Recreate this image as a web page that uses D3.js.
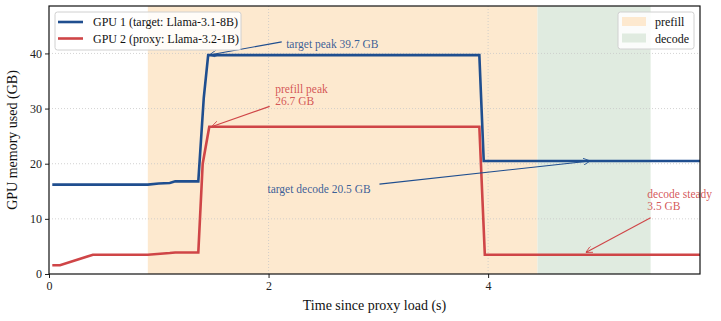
<!DOCTYPE html>
<html>
<head>
<meta charset="utf-8">
<script src="https://cdn.jsdelivr.net/npm/d3@7"></script>
<style>
  body { margin: 0; background: #fff; }
  text { font-family: "Liberation Serif", "DejaVu Serif", serif; }
</style>
</head>
<body>
<script>
// GPU memory over time, two GPUs with prefill / decode phases

const W = 721, H = 321;
const margin = {top: 6, right: 21, bottom: 47, left: 49};

// series: time (s) and memory (GB)
const gpu1T = [0.03, 0.9, 1.0, 1.1, 1.15, 1.36, 1.41, 1.45, 3.92, 3.96, 5.93];
const gpu1M = [16.2, 16.2, 16.4, 16.5, 16.8, 16.8, 32.0, 39.7, 39.7, 20.5, 20.5];

const gpu2T = [0.03, 0.1, 0.4, 0.9, 1.1, 1.15, 1.36, 1.40, 1.46, 3.92, 3.97, 5.93];
const gpu2M = [1.6, 1.6, 3.5, 3.5, 3.8, 3.9, 3.9, 20.0, 26.7, 26.7, 3.5, 3.5];

const seriesNames = ["GPU 1 (target: Llama-3.1-8B)", "GPU 2 (proxy: Llama-3.2-1B)"];
const seriesColors = ["#1f4e8f", "#cf4547"];

// phases
const phaseNames = ["prefill", "decode"];
const phaseStart = [0.9, 4.45];
const phaseEnd = [4.45, 5.48];
const phaseColors = ["#fde9cf", "#e0ebe0"];

const xTicks = [0, 2, 4];
const yTicks = [0, 10, 20, 30, 40];

// annotations: label lines, text anchor, arrow tail, arrow head
const notes = [
  {lines: ["target peak 39.7 GB"], tx: 2.16, ty: 41.0, ax: 2.12, ay: 42.1, px: 1.46, py: 39.7, c: 0},
  {lines: ["prefill peak", "26.7 GB"], tx: 2.06, ty: 32.8, ax: 2.01, ay: 30.4, px: 1.48, py: 26.7, c: 1},
  {lines: ["target decode 20.5 GB"], tx: 1.99, ty: 14.6, ax: 3.01, ay: 16.3, px: 4.93, py: 20.5, c: 0},
  {lines: ["decode steady", "3.5 GB"], tx: 5.45, ty: 13.7, ax: 5.48, ay: 10.2, px: 4.89, py: 3.9, c: 1}
];

const innerW = W - margin.left - margin.right;
const innerH = H - margin.top - margin.bottom;

const x = d3.scaleLinear().domain([0, 5.93]).range([0, innerW]);
const y = d3.scaleLinear().domain([0, 48.6]).range([innerH, 0]);

const svg = d3.select("body").append("svg")
  .attr("width", W).attr("height", H);

const defs = svg.append("defs");
seriesColors.forEach((c, i) => {
  defs.append("marker")
    .attr("id", "arr" + i)
    .attr("viewBox", "0 0 10 10")
    .attr("refX", 10).attr("refY", 5)
    .attr("markerWidth", 7).attr("markerHeight", 7)
    .attr("markerUnits", "userSpaceOnUse")
    .attr("orient", "auto")
    .append("path")
    .attr("d", "M0,0 L10,5 L0,10")
    .attr("fill", "none")
    .attr("stroke", c)
    .attr("stroke-width", 1.2);
});

const g = svg.append("g")
  .attr("transform", "translate(" + margin.left + "," + margin.top + ")");

g.append("clipPath").attr("id", "clip")
  .append("rect").attr("width", innerW).attr("height", innerH);

// phase shading
g.selectAll(".phase")
  .data(phaseNames)
  .join("rect")
  .attr("class", "phase")
  .attr("x", (d, i) => x(phaseStart[i]))
  .attr("width", (d, i) => x(phaseEnd[i]) - x(phaseStart[i]))
  .attr("y", 0)
  .attr("height", innerH)
  .attr("fill", (d, i) => phaseColors[i]);

// grid
g.selectAll(".ygrid")
  .data(yTicks.slice(1))
  .join("line")
  .attr("x1", 0).attr("x2", innerW)
  .attr("y1", d => y(d)).attr("y2", d => y(d))
  .attr("stroke", "#c8c8c8").attr("stroke-width", 0.8)
  .attr("stroke-dasharray", "1,2");

g.selectAll(".xgrid")
  .data(xTicks.slice(1))
  .join("line")
  .attr("x1", d => x(d)).attr("x2", d => x(d))
  .attr("y1", 0).attr("y2", innerH)
  .attr("stroke", "#c8c8c8").attr("stroke-width", 0.8)
  .attr("stroke-dasharray", "1,2");

// lines
const line = d3.line().x(d => x(d[0])).y(d => y(d[1]));
const series = [d3.zip(gpu1T, gpu1M), d3.zip(gpu2T, gpu2M)];

g.selectAll(".series")
  .data(series)
  .join("path")
  .attr("class", "series")
  .attr("clip-path", "url(#clip)")
  .attr("d", line)
  .attr("fill", "none")
  .attr("stroke", (d, i) => seriesColors[i])
  .attr("stroke-width", 2.6)
  .attr("stroke-linejoin", "miter");

// annotations
notes.forEach(n => {
  g.append("line")
    .attr("x1", x(n.ax)).attr("y1", y(n.ay))
    .attr("x2", x(n.px)).attr("y2", y(n.py))
    .attr("stroke", seriesColors[n.c])
    .attr("stroke-width", 1.1)
    .attr("marker-end", "url(#arr" + n.c + ")");
  const t = g.append("text")
    .attr("x", x(n.tx)).attr("y", y(n.ty))
    .attr("fill", seriesColors[n.c])
    .attr("fill-opacity", 0.9)
    .style("font-size", "11.5px");
  n.lines.forEach((s, j) => {
    t.append("tspan").attr("x", x(n.tx)).attr("dy", j === 0 ? 0 : 11.5).text(s);
  });
});

// axes
const xAxis = g.append("g")
  .attr("transform", "translate(0," + innerH + ")")
  .call(d3.axisBottom(x).tickValues(xTicks).tickFormat(d3.format("d")).tickSize(4).tickPadding(3));
const yAxis = g.append("g")
  .call(d3.axisLeft(y).tickValues(yTicks).tickFormat(d3.format("d")).tickSize(4).tickPadding(3));

[xAxis, yAxis].forEach(a => {
  a.select(".domain").remove();
  a.selectAll("text").style("font-size", "12px").attr("fill", "#222")
    .style("font-family", "'Liberation Serif', serif");
  a.selectAll("line").attr("stroke", "#222").attr("stroke-width", 1);
});

// frame
g.append("rect")
  .attr("width", innerW).attr("height", innerH)
  .attr("fill", "none").attr("stroke", "#111").attr("stroke-width", 1.2);

// axis labels
svg.append("text")
  .attr("x", margin.left + innerW / 2).attr("y", 310)
  .attr("text-anchor", "middle")
  .style("font-size", "14px").attr("fill", "#111")
  .text("Time since proxy load (s)");

svg.append("text")
  .attr("transform", "translate(17," + (margin.top + innerH / 2) + ")rotate(-90)")
  .attr("text-anchor", "middle")
  .style("font-size", "14px").attr("fill", "#111")
  .text("GPU memory used (GB)");

// legend: series
const leg1 = g.append("g").attr("transform", "translate(6,6)");
leg1.append("rect")
  .attr("width", 186).attr("height", 38).attr("rx", 2.5)
  .attr("fill", "#fff").attr("fill-opacity", 0.85)
  .attr("stroke", "#d0d0d0");
seriesNames.forEach((s, i) => {
  leg1.append("line")
    .attr("x1", 3).attr("x2", 28)
    .attr("y1", 10 + i * 16.5).attr("y2", 10 + i * 16.5)
    .attr("stroke", seriesColors[i]).attr("stroke-width", 2.6);
  leg1.append("text")
    .attr("x", 38).attr("y", 14 + i * 16.5)
    .style("font-size", "12px").attr("fill", "#111")
    .text(s);
});

// legend: phases
const leg2 = g.append("g").attr("transform", "translate(" + (innerW - 82) + ",6)");
leg2.append("rect")
  .attr("width", 76).attr("height", 37).attr("rx", 2.5)
  .attr("fill", "#fff").attr("fill-opacity", 0.85)
  .attr("stroke", "#d0d0d0");
phaseNames.forEach((s, i) => {
  leg2.append("rect")
    .attr("x", 4).attr("y", 5 + i * 16.5)
    .attr("width", 24).attr("height", 9)
    .attr("fill", phaseColors[i]);
  leg2.append("text")
    .attr("x", 37).attr("y", 14 + i * 16.5)
    .style("font-size", "12px").attr("fill", "#111")
    .text(s);
});
</script>
</body>
</html>
